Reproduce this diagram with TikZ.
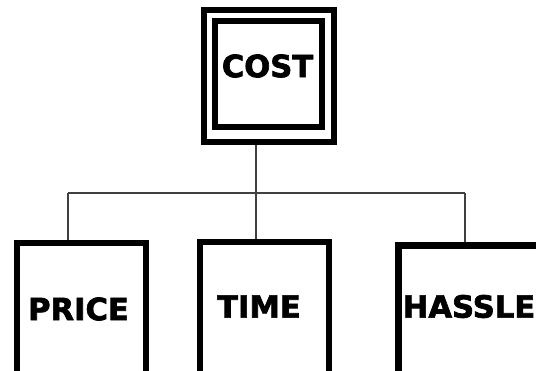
\documentclass[tikz,border=0pt]{standalone}
\usepackage{fontspec}
\newfontfamily\heavyfont{DejaVu Sans Bold}[FakeBold=2.2]
\tikzset{
  frame/.style={draw=black, line width=#1, fill=none, inner sep=0pt, anchor=north west},
  frame/.default=6pt,
  word/.style={inner sep=0pt, font=\heavyfont\fontsize{30.6}{32}\selectfont},
  link/.style={draw=black!75, line width=1.6pt}
}
\begin{document}
\begin{tikzpicture}[x=1pt,y=-1pt]
\useasboundingbox (0,0) rectangle (536,370);
\clip (0,0) rectangle (536,370);

% top box: double frame
\node[frame, minimum width=130pt, minimum height=132pt] (costout) at (201,7) {};
\node[frame=5.5pt, minimum width=107pt, minimum height=106pt] (costin) at (212.3,18.3) {};
\node[word] (costtxt) at (267.5,66) {COST};

% lower boxes, running past the bottom edge
\node[frame, minimum width=129.5pt, minimum height=200pt] (price) at (13.7,240) {};
\node[frame, minimum width=129pt, minimum height=200pt] (time) at (196.6,239) {};
\node[frame=7pt, minimum width=200pt, minimum height=200pt] (hassle) at (394.5,241.5) {};

\node[word] (pricetxt) at (78.5,309) {PRICE};
\node[word] (timetxt) at (259,306.5) {TIME};
\node[word] (hassletxt) at (469,306.5) {HASSLE};

% tree connectors
\coordinate (hub) at (256,193);
\coordinate (pj) at (68,193);
\coordinate (hj) at (465,193);
\draw[link] (hub |- costout.south) -- (hub);
\draw[link] (pj) -- (hj);
\draw[link] (pj) -- (pj |- price.north);
\draw[link] (hub) -- (hub |- time.north);
\draw[link] (hj) -- (hj |- hassle.north);
\end{tikzpicture}
\end{document}
